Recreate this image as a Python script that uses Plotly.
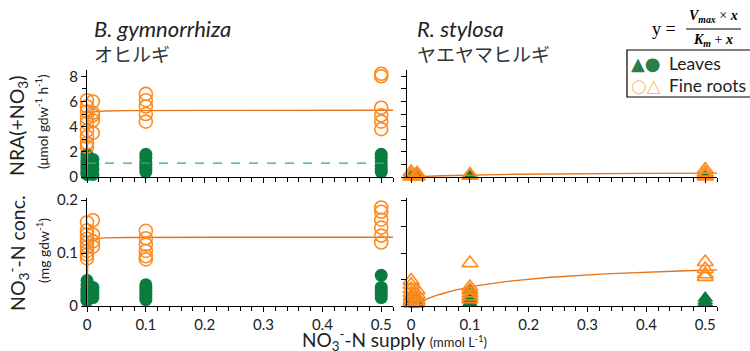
import numpy as np
import plotly.graph_objects as go

# ---------------- data ----------------
supply = [0, 0.01, 0.1, 0.5]

# B. gymnorrhiza – NRA (umol gdw-1 h-1)
bg_nra_roots = {
    0: [6.1, 5.6, 5.2, 4.7, 4.3, 3.7, 3.2, 2.7, 2.4],
    0.01: [6.0, 5.1, 4.9, 4.5, 3.5],
    0.1: [6.6, 6.1, 5.6, 5.0, 4.4],
    0.5: [8.2, 8.0, 5.5, 4.9, 4.4, 3.8],
}
bg_nra_leaves = {
    0: [1.8, 1.5, 1.3, 1.1, 0.9, 0.7, 0.5, 0.3, 0.2],
    0.01: [1.4, 1.0, 0.6, 0.2],
    0.1: [1.8, 1.5, 1.2, 1.0, 0.8, 0.6, 0.4],
    0.5: [1.8, 1.5, 1.2, 0.9, 0.6, 0.4],
}
# B. gymnorrhiza – NO3-N conc. (mg gdw-1)
bg_conc_roots = {
    0: [0.158, 0.143, 0.135, 0.127, 0.12, 0.112, 0.104, 0.097, 0.09],
    0.01: [0.162, 0.135, 0.122, 0.112],
    0.1: [0.142, 0.128, 0.116, 0.104, 0.094, 0.088],
    0.5: [0.186, 0.178, 0.163, 0.148, 0.133, 0.12],
}
bg_conc_leaves = {
    0: [0.048, 0.04, 0.033, 0.028, 0.024, 0.02, 0.016, 0.012, 0.01],
    0.01: [0.035, 0.028, 0.022, 0.016],
    0.1: [0.04, 0.034, 0.028, 0.022, 0.016, 0.012],
    0.5: [0.058, 0.035, 0.028, 0.022, 0.016],
}
# R. stylosa – NRA
rs_nra_roots = {
    0: [0.4, 0.2, 0.1, 0.05],
    0.01: [0.3, 0.15, 0.05],
    0.1: [0.2, 0.1],
    0.5: [0.6, 0.35, 0.15, 0.05],
}
rs_nra_leaves = {
    0: [0.1, 0.05],
    0.01: [0.08, 0.03],
    0.1: [0.1, 0.05],
    0.5: [0.1, 0.05],
}
# R. stylosa – NO3-N conc.
rs_conc_roots = {
    0: [0.048, 0.04, 0.032, 0.025, 0.018, 0.012, 0.008],
    0.01: [0.03, 0.022, 0.015, 0.01, 0.006],
    0.1: [0.081, 0.036, 0.03, 0.024, 0.018, 0.013],
    0.5: [0.083, 0.07, 0.06, 0.055],
}
rs_conc_leaves = {
    0: [0.02, 0.012, 0.008, 0.004],
    0.01: [0.015, 0.008, 0.004],
    0.1: [0.03, 0.02, 0.012, 0.006],
    0.5: [0.015, 0.01, 0.006],
}

# fitted Michaelis-Menten parameters (Vmax, Km)
fit_bg_nra_roots = (5.3, 0.0003)
fit_bg_conc_roots = (0.13, 0.0003)
fit_rs_nra_roots = (0.4, 0.15)
fit_rs_conc_roots = (0.087, 0.143)
mean_bg_nra_leaves = 1.1

x_ticks = [0, 0.1, 0.2, 0.3, 0.4, 0.5]

# ---------------- styling ----------------
GREEN = "#0a7d3e"
ORANGE = "#ff8a1c"
LINE_OR = "#e8741a"
DASH_GR = "#3fa56e"
FONT = "Lato"
JP = "Noto Sans CJK JP"
W, H = 750, 351


def px(x):
    return x / W


def py(y):
    return 1 - y / H


def flat(d):
    xs, ys = [], []
    for k in supply:
        for v in d[k]:
            xs.append(k)
            ys.append(v)
    return xs, ys


fig = go.Figure()

xgrid = np.concatenate([[0], np.geomspace(1e-5, 0.52, 500)])


def mm(p):
    vmax, km = p
    return vmax * xgrid / (km + xgrid)


def add_points(d, ax, symbol, filled, color):
    xs, ys = flat(d)
    size = 13 if "circle" in symbol else 14
    if filled:
        marker = dict(symbol=symbol, size=size, color=color, line=dict(width=0))
    else:
        marker = dict(symbol=symbol + "-open", size=size, color=color,
                      line=dict(color=color, width=1.6))
    fig.add_trace(go.Scatter(x=xs, y=ys, mode="markers", marker=marker,
                             xaxis="x" + ax, yaxis="y" + ax, cliponaxis=False,
                             showlegend=False, hoverinfo="x+y"))


def add_line(y, ax, color, dash="solid"):
    fig.add_trace(go.Scatter(x=xgrid, y=y, mode="lines",
                             line=dict(color=color, width=1.4, dash=dash),
                             xaxis="x" + ax, yaxis="y" + ax, showlegend=False,
                             hoverinfo="skip"))


# top-left: B. gymnorrhiza NRA (axis "")
add_points(bg_nra_leaves, "", "circle", True, GREEN)
add_line(np.full_like(xgrid, mean_bg_nra_leaves), "", DASH_GR, "dash")
add_line(mm(fit_bg_nra_roots), "", LINE_OR)
add_points(bg_nra_roots, "", "circle", False, ORANGE)

# top-right: R. stylosa NRA (axis 2)
add_points(rs_nra_leaves, "2", "triangle-up", True, GREEN)
add_line(mm(fit_rs_nra_roots), "2", LINE_OR)
add_points(rs_nra_roots, "2", "triangle-up", False, ORANGE)

# bottom-left: B. gymnorrhiza conc (axis 3)
add_points(bg_conc_leaves, "3", "circle", True, GREEN)
add_line(mm(fit_bg_conc_roots), "3", LINE_OR)
add_points(bg_conc_roots, "3", "circle", False, ORANGE)

# bottom-right: R. stylosa conc (axis 4)
add_points(rs_conc_leaves, "4", "triangle-up", True, GREEN)
add_line(mm(fit_rs_conc_roots), "4", LINE_OR)
add_points(rs_conc_roots, "4", "triangle-up", False, ORANGE)

tickfont = dict(family=FONT, size=15, color="#222")
base_ax = dict(showline=True, linecolor="black", linewidth=1, showgrid=False,
               zeroline=False, ticks="outside", ticklen=5, tickcolor="black",
               tickwidth=1, tickfont=tickfont, automargin=False)

left_dom = [px(87), px(393)]
right_dom = [px(407), px(717)]
top_dom = [py(177), py(70)]
bot_dom = [py(306), py(198)]

xmin_l, xmin_r, xmax = 0, -0.007, 0.52

xcommon = dict(base_ax, tickvals=x_ticks, ticktext=[str(v) if v else "0" for v in x_ticks],
               minor=dict(dtick=0.02, tick0=0, ticks="outside", ticklen=4,
                          tickcolor="black"))

fig.update_layout(
    width=W, height=H, margin=dict(l=0, r=0, t=0, b=0, pad=0, autoexpand=False),
    paper_bgcolor="white", plot_bgcolor="white",
    xaxis=dict(xcommon, domain=left_dom, range=[xmin_l, xmax], anchor="y",
               showticklabels=False),
    yaxis=dict(base_ax, domain=top_dom, range=[0, 8.5], anchor="x", dtick=2,
               minor=dict(dtick=1, ticks="outside", ticklen=4, tickcolor="black")),
    xaxis2=dict(xcommon, domain=right_dom, range=[xmin_r, xmax], anchor="y2",
                showticklabels=False),
    yaxis2=dict(base_ax, domain=top_dom, range=[0, 8.5], anchor="x2", dtick=2,
                showticklabels=False,
                minor=dict(dtick=1, ticks="outside", ticklen=5, tickcolor="black")),
    xaxis3=dict(xcommon, domain=left_dom, range=[xmin_l, xmax], anchor="y3"),
    yaxis3=dict(base_ax, domain=bot_dom, range=[0, 0.204], anchor="x3",
                tickvals=[0, 0.1, 0.2], ticktext=["0", "0.1", "0.2"]),
    xaxis4=dict(xcommon, domain=right_dom, range=[xmin_r, xmax], anchor="y4"),
    yaxis4=dict(base_ax, domain=bot_dom, range=[0, 0.204], anchor="x4",
                dtick=0.05, showticklabels=False),
)

ann = []


def text(x, y, t, size, family=FONT, color="#222", xanchor="left", angle=0, yanchor="middle"):
    ann.append(dict(x=px(x), y=py(y), xref="paper", yref="paper", text=t,
                    showarrow=False, xanchor=xanchor, yanchor=yanchor,
                    textangle=angle, font=dict(family=family, size=size, color=color)))


# panel titles
text(92, 29, "<i>B. gymnorrhiza</i>", 22)
text(92, 53, "オヒルギ", 19, family=JP, color="#333")
text(415, 29, "<i>R. stylosa</i>", 22)
text(415, 53, "ヤエヤマヒルギ", 19, family=JP, color="#333")

# y titles
text(18, 126, "NRA(+NO<sub>3</sub>)", 19.5, xanchor="center", angle=-90)
text(42, 122, "(μmol gdw<sup>-1</sup> h<sup>-1</sup>)", 13.5, xanchor="center", angle=-90)
text(18, 253, "NO<sub>3</sub><sup>-</sup>-N conc.", 19.5, xanchor="center", angle=-90)
text(42, 251, "(mg gdw<sup>-1</sup>)", 14, xanchor="center", angle=-90)

# x title
text(395, 340, "NO<sub>3</sub><sup>-</sup>-N supply <span style='font-size:13px'>(mmol L<sup>-1</sup>)</span>",
     19, xanchor="center")

# formula
SERIF = "Liberation Serif"
text(650, 29, "y =", 18, family=SERIF, color="black")
text(713, 17, "<i><b>V<sub>max</sub></b></i> × <i><b>x</b></i>", 14, family=SERIF,
     color="black", xanchor="center")
text(713, 40, "<i><b>K<sub>m</sub></b></i> + <i><b>x</b></i>", 14, family=SERIF,
     color="black", xanchor="center")

# legend
text(629, 64, "<span style='color:%s'>▲●</span>" % "#2b7d4a", 18, family="DejaVu Sans")
text(667, 63, "Leaves", 17.5)
text(629, 85, "<span style='color:#ffb877'>○△</span>", 18, family="DejaVu Sans")
text(667, 85, "Fine roots", 17.5)

fig.update_layout(annotations=ann)

fig.add_shape(type="line", xref="paper", yref="paper", x0=px(686), x1=px(741),
              y0=py(29), y1=py(29), line=dict(color="black", width=1))
fig.add_shape(type="rect", xref="paper", yref="paper", x0=px(627), x1=px(752),
              y0=py(97), y1=py(50), line=dict(color="black", width=1.2))

fig.write_html("out.html", config={"displayModeBar": False},
               post_script="document.body.style.margin='0';document.body.style.overflow='hidden';")
